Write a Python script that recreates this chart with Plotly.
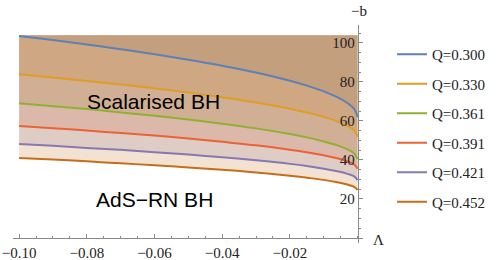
import plotly.graph_objects as go

# Lambda grid (x axis)
lam = [-0.1, -0.09, -0.08, -0.07, -0.06, -0.05, -0.04, -0.03, -0.02, -0.015, -0.01, -0.006, -0.003, -0.001, 0.0]

# -b values for each charge Q
b_q300 = [103.6, 101.5, 99.2, 96.8, 94.2, 91.4, 88.3, 84.8, 80.6, 78.1, 75.2, 72.2, 69.2, 66.2, 62.0]
b_q330 = [83.9, 82.3, 80.5, 78.7, 76.7, 74.6, 72.2, 69.5, 66.3, 64.3, 62.1, 59.8, 57.5, 55.2, 52.0]
b_q361 = [69.1, 67.6, 66.1, 64.4, 62.7, 60.7, 58.6, 56.2, 53.3, 51.6, 49.5, 47.5, 45.4, 43.4, 40.5]
b_q391 = [57.4, 56.3, 55.1, 53.8, 52.5, 51.0, 49.3, 47.5, 45.3, 44.0, 42.4, 40.9, 39.3, 37.7, 35.5]
b_q421 = [48.2, 47.3, 46.2, 45.2, 44.0, 42.8, 41.4, 39.8, 38.0, 36.9, 35.5, 34.2, 32.9, 31.6, 29.7]
b_q452 = [41.0, 40.2, 39.3, 38.3, 37.3, 36.2, 35.0, 33.6, 31.9, 30.9, 29.8, 28.6, 27.4, 26.2, 24.6]

labels = ["Q=0.300", "Q=0.330", "Q=0.361", "Q=0.391", "Q=0.421", "Q=0.452"]
series = [b_q300, b_q330, b_q361, b_q391, b_q421, b_q452]
colors = ["#5E81B5", "#E19C24", "#8FB032", "#EB6235", "#8778B3", "#C56E1A"]

fill_top = 104.0  # top of the filled plot range

x_ticks = [-0.10, -0.08, -0.06, -0.04, -0.02]
x_ticktext = ["\u22120.10", "\u22120.08", "\u22120.06", "\u22120.04", "\u22120.02"]
y_ticks = [20, 40, 60, 80, 100]

x_range = [-0.1018, 0.0016]
y_range = [-2.56, 109.2]

W, H = 498, 260
ML, MR, MT, MB = 5, 5, 5, 5
PW, PH = W - ML - MR, H - MT - MB


def px_x(px):
    return (px - ML) / PW


def px_y(py):
    return (H - MB - py) / PH


def rgba(hexc, a):
    h = hexc.lstrip("#")
    return "rgba(%d,%d,%d,%.2f)" % (int(h[0:2], 16), int(h[2:4], 16), int(h[4:6], 16), a)


fig = go.Figure()

# fills: each curve filled up to the top, drawn in series order (first series underneath)
for vals, col in zip(series, colors):
    fig.add_trace(go.Scatter(x=lam, y=vals, mode="lines", line=dict(width=0, shape="spline"),
                             showlegend=False, hoverinfo="skip"))
    fig.add_trace(go.Scatter(x=lam, y=[fill_top] * len(lam), mode="lines",
                             line=dict(width=0), fill="tonexty", fillcolor=rgba(col, 0.2),
                             showlegend=False, hoverinfo="skip"))

# curves on top
for i, (vals, col, lab) in enumerate(zip(series, colors, labels)):
    fig.add_trace(go.Scatter(x=lam, y=vals, mode="lines", name=lab,
                             line=dict(color=col, width=2, shape="spline"),
                             legendrank=i + 1, legendgroup=lab, hoverinfo="skip"))

serif = "Liberation Serif"
sans = "Liberation Sans"

fig.add_annotation(x=-0.0603, y=69.9, text="Scalarised BH", showarrow=False,
                   font=dict(family=sans, size=21, color="black"))
fig.add_annotation(x=-0.0599, y=19.5, text="AdS\u2212RN BH", showarrow=False,
                   font=dict(family=sans, size=21, color="black"))
fig.add_annotation(xref="paper", yref="paper", x=px_x(359), y=px_y(11), text="\u2212b",
                   xanchor="center", yanchor="middle",
                   showarrow=False, font=dict(family=serif, size=15, color="#222"))
fig.add_annotation(xref="paper", yref="paper", x=px_x(378), y=px_y(240), text="\u039b",
                   xanchor="center", yanchor="middle",
                   showarrow=False, font=dict(family=serif, size=15, color="#222"))

fig.update_layout(
    width=W, height=H,
    margin=dict(l=ML, r=MR, t=MT, b=MB),
    paper_bgcolor="white", plot_bgcolor="white",
    font=dict(family=serif),
    showlegend=True,
    legend=dict(x=px_x(392), y=px_y(38), xanchor="left", yanchor="top",
                font=dict(family=serif, size=15, color="#222"),
                traceorder="grouped", tracegroupgap=7, bgcolor="rgba(0,0,0,0)"),
    xaxis=dict(range=x_range, domain=[px_x(13), px_x(363)], showgrid=False, zeroline=False,
               showline=True, linecolor="#8a8a8a", linewidth=1, anchor="free",
               position=px_y(238), ticklabeloverflow="allow", ticklabelstandoff=1,
               tickmode="array", tickvals=x_ticks, ticktext=x_ticktext,
               ticks="inside", ticklen=4, tickcolor="#8a8a8a",
               minor=dict(ticks="inside", ticklen=2, tickcolor="#8a8a8a", tick0=0, dtick=0.005),
               tickfont=dict(family=serif, size=15, color="#222"), automargin=False),
    yaxis=dict(range=y_range, domain=[px_y(243), px_y(25)], showgrid=False, zeroline=False,
               showline=True, linecolor="#8a8a8a", linewidth=1, anchor="free",
               position=px_x(357.7), side="left", ticklabeloverflow="allow",
               tickmode="array", tickvals=y_ticks,
               ticks="inside", ticklen=4, tickcolor="#8a8a8a",
               minor=dict(ticks="inside", ticklen=2, tickcolor="#8a8a8a", tick0=0, dtick=5),
               tickfont=dict(family=serif, size=15, color="#222"), automargin=False),
)

fig.write_html("out.html", config={"displayModeBar": False},
               post_script="document.body.style.margin='0';")
